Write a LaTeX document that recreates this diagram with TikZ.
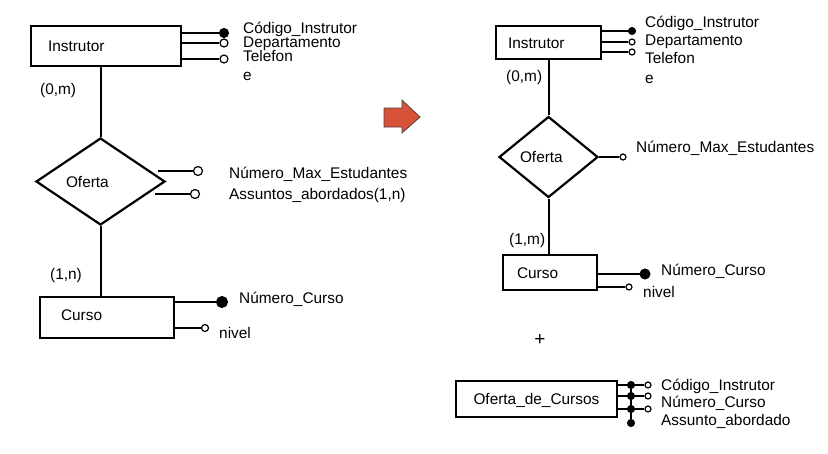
\documentclass[tikz,border=0pt]{standalone}
\usepackage{fontspec}
\setmainfont{Liberation Sans}
\usetikzlibrary{shapes.geometric}
\definecolor{arrowred}{RGB}{216,82,58}
\definecolor{arrowedge}{RGB}{80,64,64}
\newcommand{\erfont}{\fontsize{15.4}{18}\selectfont}

\begin{document}
\begin{tikzpicture}[x=1pt, y=-1pt, font=\erfont]
    \tikzstyle{ent}=[draw, rectangle, line width=2.2pt, align=left, text height=11pt, text depth=0pt]
    \tikzstyle{rel}=[draw, diamond, line width=2.2pt, align=left, inner sep=2pt, text height=11pt, text depth=0pt]
    \tikzstyle{conn}=[line width=2pt]
    \tikzstyle{attl}=[line width=1.3pt]
    \tikzstyle{keyatt}=[circle, draw, fill=black, inner sep=0pt, line width=1pt]
    \tikzstyle{optatt}=[circle, draw, fill=white, inner sep=0pt, line width=1.2pt]
    \tikzstyle{lbl}=[anchor=base west, inner sep=0pt]

    \useasboundingbox (0,0) rectangle (828,453);

    % antes
    \begin{scope}
        \node[ent, text width=116pt, inner xsep=17pt, minimum height=40pt] (instrL) at (106,46) {Instrutor};
        \node[rel, text width=69pt, aspect=1.48, minimum width=129pt, minimum height=87pt] (ofertaL) at (100.5,181.5) {Oferta};
        \node[ent, text width=92pt, inner xsep=21pt, minimum height=41pt, text depth=6pt] (cursoL) at (107,317.5) {Curso};

        \draw[conn] (ofertaL.north |- instrL.south) -- (ofertaL.north);
        \draw[conn] (ofertaL.south) -- (ofertaL.south |- cursoL.north);

        \node[lbl] (cardIL) at (40,94) {(0,m)};
        \node[lbl] (cardCL) at (50,279) {(1,n)};

        \node[keyatt, minimum size=9pt] (ciL) at (224,33) {};
        \foreach \n/\y in {depL/43, telL/59} {
            \node[optatt, minimum size=8pt] (\n) at (224,\y) {};
        }
        \foreach \n in {ciL, depL, telL} {
            \draw[attl] (\n) -- (\n -| instrL.east);
        }

        \node[optatt, minimum size=9pt] (nmeL) at (198,171) {};
        \node[optatt, minimum size=9pt] (assL) at (195,194) {};
        \draw[attl, shorten >=-8pt] (nmeL) -- (nmeL -| ofertaL.east);
        \draw[attl, shorten >=-11pt] (assL) -- (assL -| ofertaL.east);

        \node[keyatt, minimum size=11pt] (ncL) at (222,302) {};
        \node[optatt, minimum size=7pt] (nivL) at (205,328) {};
        \draw[attl] (ncL) -- (ncL -| cursoL.east);
        \draw[attl] (nivL) -- (nivL -| cursoL.east);

        \foreach \n/\y/\t in {tCiL/33/Código\_Instrutor, tDepL/47.5/Departamento, tTelL/61/Telefon, tEL/80/e} {
            \node[lbl] (\n) at (243,\y) {\t};
        }
        \node[lbl] (tNmeL) at (229,178) {Número\_Max\_Estudantes};
        \node[lbl] (tAssL) at (229,199) {Assuntos\_abordados(1,n)};
        \node[lbl] (tNcL) at (239,303) {Número\_Curso};
        \node[lbl] (tNivL) at (219,338) {nivel};
    \end{scope}

    \draw[fill=arrowred, draw=arrowedge, line width=0.8pt]
        (384,108) -- (402,108) -- (402,100) -- (420,117) -- (402,133) -- (402,127) -- (384,127) -- cycle;

    % depois
    \begin{scope}
        \node[ent, text width=81pt, inner xsep=12pt, minimum height=33pt] (instrR) at (548.5,42.5) {Instrutor};
        \node[rel, text width=57pt, aspect=1.22, minimum width=99pt, minimum height=81pt] (ofertaR) at (548.5,157) {Oferta};
        \node[ent, text width=66pt, inner xsep=14pt, minimum height=35pt] (cursoR) at (550,272.5) {Curso};

        \draw[conn] (instrR) -- (ofertaR);
        \draw[conn] (ofertaR.south) -- (ofertaR.south |- cursoR.north);

        \node[lbl] (cardIR) at (506,81) {(0,m)};
        \node[lbl] (cardCR) at (509,244) {(1,m)};

        \node[keyatt, minimum size=7pt] (ciR) at (632,31) {};
        \foreach \n/\y in {depR/42, telR/52} {
            \node[optatt, minimum size=6pt] (\n) at (632,\y) {};
        }
        \foreach \n in {ciR, depR, telR} {
            \draw[attl] (\n) -- (\n -| instrR.east);
        }

        \node[optatt, minimum size=6pt] (nmeR) at (623,157) {};
        \draw[attl] (nmeR) -- (ofertaR.east);

        \node[keyatt, minimum size=10pt] (ncR) at (645,274) {};
        \node[optatt, minimum size=6pt] (nivR) at (629,287) {};
        \draw[attl] (ncR) -- (ncR -| cursoR.east);
        \draw[attl] (nivR) -- (nivR -| cursoR.east);

        \foreach \n/\y/\t in {tCiR/27/Código\_Instrutor, tDepR/45/Departamento, tTelR/63/Telefon, tER/83/e} {
            \node[lbl] (\n) at (645,\y) {\t};
        }
        \node[lbl] (tNmeR) at (636,152) {Número\_Max\_Estudantes};
        \node[lbl] (tNcR) at (661,275) {Número\_Curso};
        \node[lbl] (tNivR) at (643,297) {nivel};

        \node[inner sep=0pt, font=\fontsize{19}{20}\selectfont] (plus) at (540,340) {+};

        \node[ent, text width=126pt, inner xsep=17.5pt, minimum height=36pt] (ofc) at (536.5,399) {Oferta\_de\_Cursos};

        \foreach \n/\y in {k1/385, k2/396, k3/409, k4/423} {
            \node[keyatt, minimum size=7pt] (\n) at (631,\y) {};
        }
        \foreach \n/\y in {o1/385, o2/396, o3/409} {
            \node[optatt, minimum size=6pt] (\n) at (648,\y) {};
            \draw[attl] (\n) -- (\n -| ofc.east);
        }
        \draw[attl] (k1) -- (k4);

        \foreach \n/\y/\t in {tCiO/390/Código\_Instrutor, tNcO/407/Número\_Curso, tAsO/425/Assunto\_abordado} {
            \node[lbl] (\n) at (661,\y) {\t};
        }
    \end{scope}

\end{tikzpicture}
\end{document}
